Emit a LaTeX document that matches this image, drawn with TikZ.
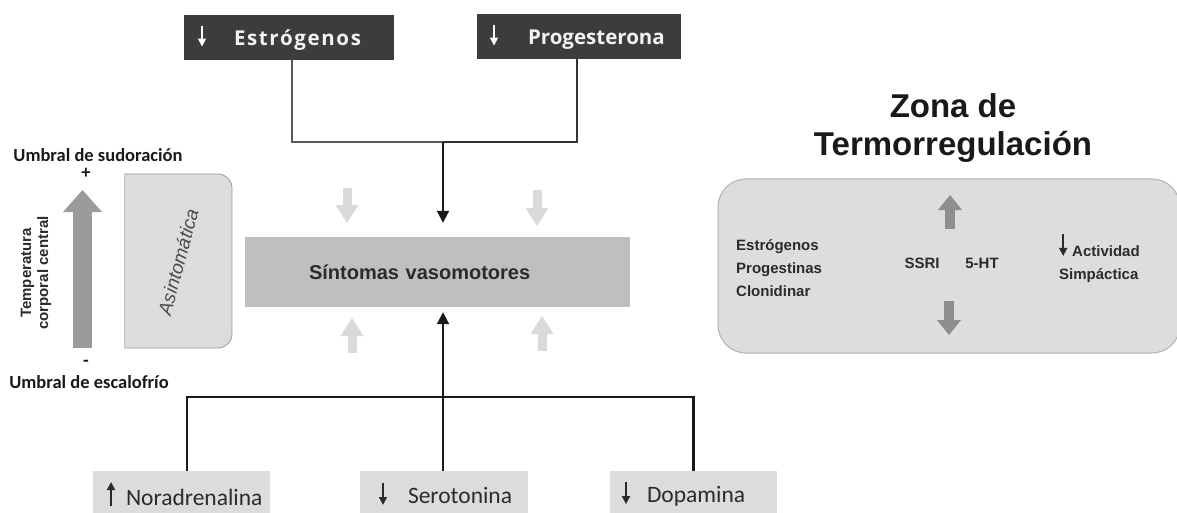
\documentclass[tikz,border=0pt]{standalone}
\usepackage{fontspec}
\setmainfont{Liberation Sans}
\newfontfamily\calib{Carlito}
\newfontfamily\osans{Open Sans}
\usetikzlibrary{arrows.meta}

\definecolor{darkbox}{HTML}{3C3C3C}
\definecolor{vasogray}{HTML}{BEBFC1}
\definecolor{paleshade}{HTML}{DCDCDD}
\definecolor{palearrow}{HTML}{D9DADC}
\definecolor{midarrow}{HTML}{8E8E8E}
\definecolor{bigarrow}{HTML}{9B9B9B}
\definecolor{zonafill}{HTML}{DCDDDF}
\definecolor{textgray}{HTML}{2B2B2B}

% small arrows set in the text of a node
\newcommand{\dnarr}[3][black]{\raisebox{#3}{\tikz\draw[#1,line width=1.7pt,-{Triangle[length=8pt,width=8pt]}] (0pt,#2) -- (0pt,0pt);}}
\newcommand{\uparr}[3][black]{\raisebox{#3}{\tikz\draw[#1,line width=1.7pt,-{Triangle[length=8pt,width=8pt]}] (0pt,0pt) -- (0pt,#2);}}

\tikzset{
	hormbox/.style={rectangle,fill=darkbox,text=white!95!black,inner sep=0pt,minimum height=45pt,align=left,
		font=\osans\bfseries\fontsize{20.5}{24}\selectfont},
	neurobox/.style={rectangle,fill=paleshade,text=textgray,inner sep=0pt,minimum height=46pt,align=left,
		font=\calib\fontsize{23.5}{27}\selectfont},
	vasobox/.style={rectangle,fill=vasogray,text=textgray,inner sep=0pt,align=left,
		font=\bfseries\fontsize{20}{24}\selectfont},
	lbl/.style={inner sep=0pt,text=black!90,font=\calib\bfseries\fontsize{18.5}{22}\selectfont},
	zonatxt/.style={inner sep=0pt,text=textgray,font=\bfseries\fontsize{15}{23}\selectfont},
	thinline/.style={draw=black!65,line width=1.3pt},
	thickline/.style={draw=black!80,line width=2.3pt},
	botline/.style={draw=black!90,line width=2.3pt},
	tipline/.style={draw=black!90,line width=2pt,-{Triangle[length=12pt,width=12pt]}},
	palearr/.style={draw=palearrow,line width=9pt,-{Triangle[length=18pt,width=23pt,line width=0pt]}},
	midarr/.style={draw=midarrow,line width=10pt,-{Triangle[length=15pt,width=24pt,line width=0pt]}},
	bigarr/.style={draw=bigarrow,line width=19pt,-{Triangle[length=22pt,width=39pt,line width=0pt]}},
}

\begin{document}
\begin{tikzpicture}[x=1pt,y=-1pt]
	\useasboundingbox (0,0) rectangle (1177,513);

	% hormonas
	\node[hormbox,minimum width=210pt,text width=210pt] (estr) at (289,37.5)
		{\hspace*{14pt}\dnarr[white]{21pt}{-2pt}\hspace{28pt}{\addfontfeature{LetterSpace=8}Estrógenos}};
	\node[hormbox,minimum width=204pt,text width=204pt] (prog) at (579,36.5)
		{\hspace*{13pt}\dnarr[white]{21pt}{-2pt}\hspace{30pt}Progesterona};

	\node[vasobox,minimum width=385pt,minimum height=70pt,text width=385pt] (vaso) at (437.5,272)
		{\hspace*{64pt}Síntomas vasomotores};

	\coordinate (jtop) at (443,142);
	\draw[thinline] ([xshift=3pt]estr.south) |- (jtop);
	\draw[thickline] ([xshift=-2pt]prog.south) |- (jtop);
	\draw[tipline,shorten >=14pt] (jtop) -- (jtop |- vaso.north);

	% flechas claras
	\draw[palearr] (347,188) -- (347,223);
	\draw[palearr] (537,190) -- (537,226);
	\draw[palearr] (352,353) -- (352,318);
	\draw[palearr] (542,351) -- (542,316);

	% neurotransmisores
	\node[neurobox,minimum width=177pt,text width=177pt] (nora) at (181.5,494)
		{\hspace*{14pt}\uparr[textgray]{24pt}{-1pt}\hspace{11pt}Noradrenalina};
	\node[neurobox,minimum width=168pt,text width=168pt] (sero) at (444,494)
		{\hspace*{19pt}\dnarr[textgray]{22pt}{-2pt}\hspace{21pt}Serotonina};
	\node[neurobox,minimum width=167pt,text width=167pt] (dopa) at (693.5,494)
		{\hspace*{12pt}\dnarr[textgray]{22pt}{-2pt}\hspace{17pt}Dopamina};

	\coordinate (jbot) at (443,397);
	\draw[botline] ([xshift=5.5pt]nora.north) |- (jbot) -| (dopa.north);
	\draw[botline] ([xshift=-1pt]sero.north) -- (jbot);
	\draw[tipline,shorten >=5pt] (jbot) -- (jbot |- vaso.south);

	% temperatura corporal
	\node[lbl] (sudor) at (98,155) {Umbral de sudoración};
	\node[lbl] (mas) at (86,173) {+};
	\draw[bigarr] (82.5,348) -- (82.5,190);
	\node[lbl] (menos) at (86,363) {-};
	\node[lbl] (escal) at (89,382) {Umbral de escalofrío};
	\node[rotate=90,inner sep=0pt,align=center,text=textgray,font=\bfseries\fontsize{15}{17}\selectfont] (temp)
		at (36,273) {Temperatura\\corporal central};

	\filldraw[fill=paleshade,draw=black!40,line width=0.8pt,rounded corners=14pt]
		(124,174) -- (232,174) -- (232,348) -- (124,348);
	\draw[draw=black!25,line width=0.8pt] (124,174) -- (124,348);
	\node[rotate=75,inner sep=0pt,text=black!70,font=\itshape\fontsize{19}{22}\selectfont] (asin)
		at (178,262) {Asintomática};

	% zona de termorregulacion
	\node[inner sep=0pt,align=center,text=black!90,font=\bfseries\fontsize{33}{38}\selectfont] (zonat)
		at (953,128.5) {Zona de\\Termorregulación};
	\node[rectangle,rounded corners=28pt,fill=zonafill,draw=black!30,line width=1pt,
		minimum width=462pt,minimum height=174pt] (zona) at (949,266) {};
	\node[zonatxt,anchor=west,align=left] (trat) at (736,268) {Estrógenos\\Progestinas\\Clonidinar};
	\node[zonatxt] (ssri) at (922,263) {SSRI};
	\node[zonatxt] (ht) at (982,263) {5-HT};
	\draw[midarr] (950,229) -- (950,195);
	\draw[midarr] (949,301) -- (949,335);
	\node[zonatxt,anchor=west,align=left] (simp) at (1059,258)
		{\dnarr[textgray]{22pt}{0pt}\hspace{5pt}Actividad\\Simpáctica};
\end{tikzpicture}
\end{document}
